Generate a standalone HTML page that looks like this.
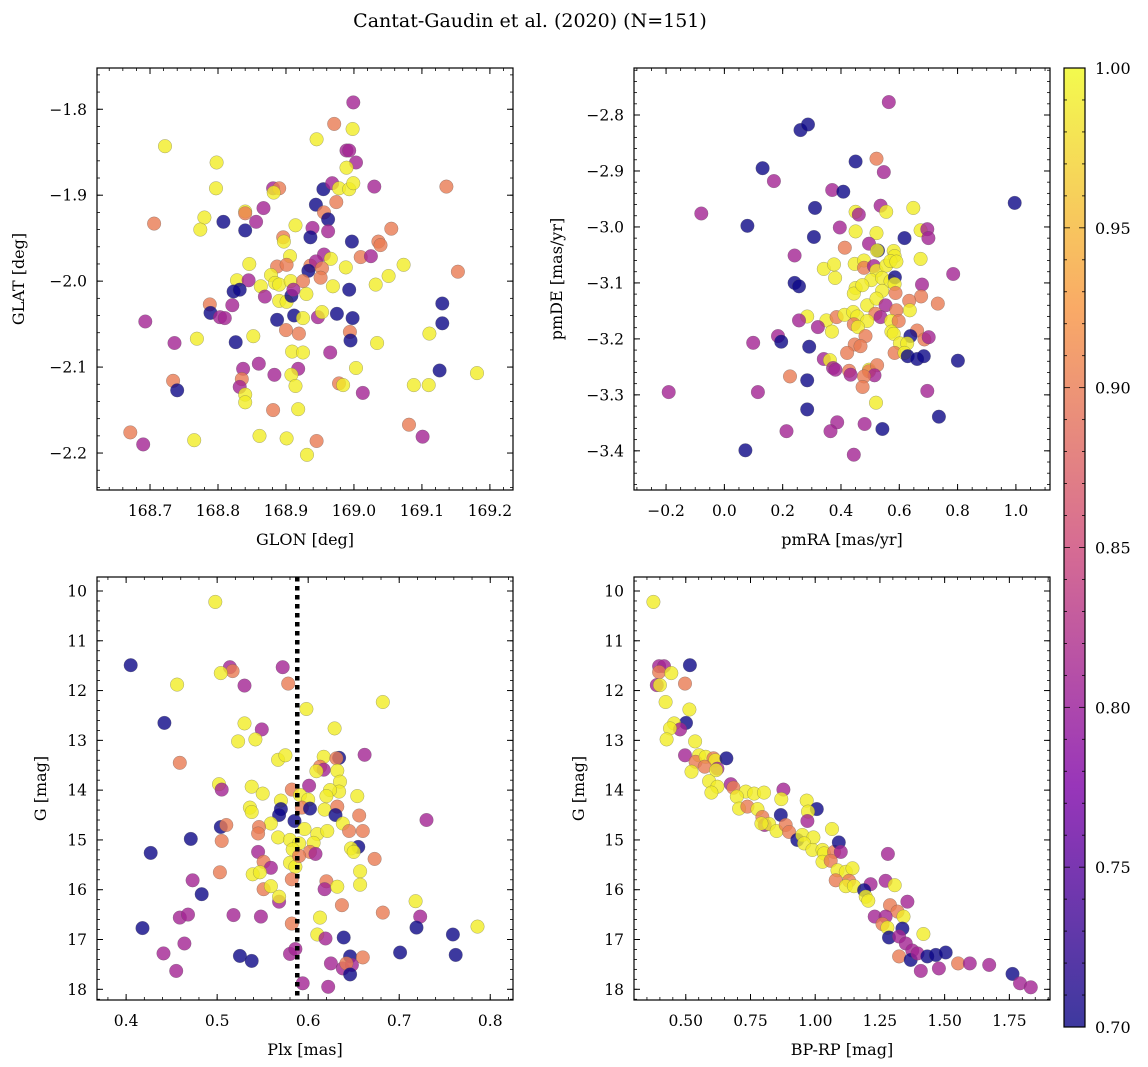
<!DOCTYPE html>
<html><head><meta charset="utf-8"><style>
body{margin:0;background:#fff}
svg{display:block;font-family:"DejaVu Serif","Liberation Serif",serif}
</style></head><body>
<svg id="fig" width="1148" height="1067" viewBox="0 0 1148 1067" xmlns="http://www.w3.org/2000/svg">
<defs><linearGradient id="cmap" x1="0" y1="1" x2="0" y2="0">
<stop offset="0" stop-color="#0d0887"/><stop offset="0.25" stop-color="#7e03a8"/><stop offset="0.5" stop-color="#cc4778"/><stop offset="0.75" stop-color="#f89540"/><stop offset="1" stop-color="#f0f921"/></linearGradient></defs>
<text x="530" y="27" font-size="19" text-anchor="middle">Cantat-Gaudin et al. (2020) (N=151)</text>
</svg>
<script>
// Panel 1: GLON vs GLAT
const glon=[168.999,168.971,168.998,168.945,168.722,168.989,168.993,169.003,168.989,168.798,168.797,168.881,168.890,168.882,168.955,168.968,168.978,168.993,168.999,169.030,169.136,168.944,168.974,168.840,168.840,168.867,168.780,168.808,168.706,168.774,168.840,168.856,168.914,168.956,168.962,168.939,168.962,168.936,168.896,168.897,168.997,169.036,169.039,169.055,168.906,168.956,168.966,169.010,169.025,168.846,168.887,168.901,168.936,168.944,168.933,168.953,168.951,168.988,169.073,169.153,168.828,168.845,168.878,168.884,168.890,168.907,168.925,168.823,168.832,168.863,168.869,168.890,168.901,168.908,168.911,168.930,168.969,168.993,169.032,169.051,168.788,168.789,168.821,168.803,168.810,168.887,168.912,168.925,168.947,168.953,168.975,168.998,168.693,168.736,168.769,168.826,168.852,168.900,168.919,168.994,168.995,169.034,169.111,169.130,169.130,168.909,168.925,168.965,168.860,168.837,168.918,168.908,168.883,168.835,168.832,168.914,168.978,168.984,169.003,169.013,169.126,169.181,169.088,169.110,168.734,168.740,168.840,168.840,168.881,168.918,168.671,168.690,168.765,168.861,168.901,168.945,168.931,169.081,169.101];
const glat=[-1.792,-1.817,-1.823,-1.835,-1.843,-1.848,-1.848,-1.862,-1.868,-1.862,-1.892,-1.892,-1.892,-1.897,-1.893,-1.886,-1.892,-1.893,-1.886,-1.890,-1.890,-1.911,-1.908,-1.919,-1.921,-1.915,-1.926,-1.931,-1.933,-1.940,-1.941,-1.931,-1.935,-1.920,-1.928,-1.938,-1.942,-1.949,-1.949,-1.954,-1.954,-1.954,-1.958,-1.939,-1.971,-1.969,-1.974,-1.972,-1.971,-1.980,-1.983,-1.981,-1.982,-1.977,-1.988,-1.985,-1.996,-1.984,-1.981,-1.989,-1.999,-1.999,-1.993,-2.002,-2.004,-2.000,-2.000,-2.012,-2.010,-2.006,-2.018,-2.023,-2.024,-2.017,-2.010,-2.015,-2.006,-2.010,-2.004,-1.994,-2.027,-2.037,-2.028,-2.042,-2.043,-2.045,-2.040,-2.043,-2.042,-2.036,-2.038,-2.043,-2.047,-2.072,-2.067,-2.071,-2.064,-2.057,-2.061,-2.059,-2.069,-2.072,-2.061,-2.026,-2.049,-2.082,-2.083,-2.083,-2.096,-2.102,-2.102,-2.109,-2.109,-2.114,-2.123,-2.122,-2.119,-2.121,-2.101,-2.130,-2.104,-2.107,-2.121,-2.121,-2.116,-2.127,-2.132,-2.141,-2.150,-2.149,-2.176,-2.190,-2.185,-2.180,-2.183,-2.186,-2.202,-2.167,-2.181];
const prob1=[0.81,0.90,0.99,0.99,0.99,0.81,0.81,0.81,0.99,0.99,0.99,0.81,0.90,0.99,0.70,0.81,0.99,0.99,0.99,0.81,0.90,0.70,0.90,0.99,0.90,0.81,0.99,0.70,0.90,0.99,0.70,0.81,0.99,0.90,0.70,0.81,0.81,0.70,0.90,0.99,0.70,0.90,0.90,0.90,0.99,0.81,0.99,0.90,0.81,0.99,0.90,0.90,0.90,0.81,0.70,0.90,0.90,0.99,0.99,0.90,0.99,0.81,0.99,0.99,0.99,0.99,0.90,0.70,0.70,0.99,0.81,0.99,0.99,0.70,0.81,0.99,0.99,0.70,0.99,0.99,0.90,0.70,0.81,0.81,0.81,0.70,0.70,0.99,0.81,0.99,0.70,0.70,0.81,0.81,0.99,0.70,0.99,0.90,0.90,0.90,0.70,0.99,0.99,0.70,0.70,0.99,0.99,0.81,0.81,0.81,0.81,0.99,0.81,0.90,0.81,0.99,0.90,0.99,0.99,0.81,0.70,0.99,0.99,0.99,0.90,0.70,0.99,0.99,0.90,0.99,0.90,0.81,0.99,0.99,0.99,0.90,0.99,0.90,0.81];
// Panel 2: pmRA vs pmDE
const pmra=[0.564,0.261,0.287,0.450,0.522,0.547,0.131,0.170,0.370,0.408,0.311,-0.079,0.079,0.536,0.450,0.461,0.555,0.648,0.996,0.396,0.307,0.450,0.522,0.618,0.673,0.696,0.700,0.413,0.496,0.527,0.524,0.581,0.584,0.241,0.341,0.376,0.380,0.447,0.479,0.479,0.513,0.522,0.555,0.570,0.590,0.673,0.785,0.241,0.256,0.504,0.541,0.570,0.585,0.584,0.450,0.444,0.473,0.541,0.587,0.678,0.675,0.732,0.634,0.636,0.490,0.522,0.553,0.518,0.590,0.284,0.256,0.350,0.385,0.412,0.442,0.456,0.490,0.536,0.572,0.598,0.444,0.458,0.321,0.369,0.484,0.573,0.581,0.661,0.638,0.686,0.701,0.602,0.627,0.184,0.195,0.099,0.291,0.447,0.467,0.421,0.584,0.618,0.629,0.661,0.684,0.801,0.341,0.362,0.373,0.381,0.428,0.433,0.496,0.496,0.524,0.515,0.479,0.474,0.225,0.284,-0.191,0.115,0.696,0.520,0.284,0.736,0.387,0.364,0.213,0.481,0.542,0.072,0.444];
const pmde=[-2.777,-2.827,-2.817,-2.883,-2.878,-2.902,-2.895,-2.918,-2.934,-2.937,-2.966,-2.976,-2.998,-2.962,-2.973,-2.978,-2.973,-2.966,-2.957,-3.001,-3.018,-3.008,-3.011,-3.020,-3.006,-3.004,-3.020,-3.037,-3.030,-3.042,-3.042,-3.043,-3.052,-3.051,-3.075,-3.067,-3.091,-3.066,-3.060,-3.073,-3.070,-3.078,-3.069,-3.061,-3.062,-3.057,-3.084,-3.100,-3.106,-3.095,-3.091,-3.097,-3.090,-3.102,-3.109,-3.119,-3.104,-3.114,-3.118,-3.103,-3.124,-3.137,-3.132,-3.149,-3.140,-3.128,-3.140,-3.155,-3.149,-3.160,-3.167,-3.167,-3.161,-3.157,-3.152,-3.160,-3.168,-3.161,-3.168,-3.168,-3.174,-3.179,-3.179,-3.187,-3.195,-3.187,-3.191,-3.185,-3.195,-3.201,-3.197,-3.208,-3.208,-3.195,-3.205,-3.207,-3.214,-3.210,-3.213,-3.225,-3.225,-3.225,-3.231,-3.236,-3.231,-3.239,-3.236,-3.238,-3.252,-3.255,-3.257,-3.264,-3.255,-3.258,-3.247,-3.265,-3.267,-3.286,-3.267,-3.274,-3.295,-3.295,-3.293,-3.314,-3.326,-3.339,-3.349,-3.365,-3.365,-3.352,-3.361,-3.399,-3.407];
const prob2=[0.81,0.70,0.70,0.70,0.90,0.81,0.70,0.81,0.81,0.70,0.70,0.81,0.70,0.81,0.99,0.81,0.99,0.99,0.70,0.81,0.70,0.99,0.99,0.70,0.99,0.81,0.81,0.90,0.81,0.70,0.99,0.99,0.99,0.81,0.99,0.99,0.99,0.99,0.99,0.90,0.81,0.99,0.99,0.99,0.99,0.99,0.81,0.70,0.70,0.99,0.99,0.99,0.70,0.99,0.99,0.99,0.99,0.99,0.90,0.81,0.90,0.90,0.90,0.99,0.99,0.99,0.81,0.90,0.90,0.99,0.81,0.99,0.90,0.99,0.99,0.99,0.99,0.81,0.99,0.90,0.90,0.99,0.81,0.99,0.90,0.99,0.99,0.90,0.70,0.90,0.81,0.99,0.99,0.81,0.70,0.81,0.70,0.90,0.90,0.90,0.90,0.99,0.70,0.70,0.70,0.70,0.81,0.99,0.81,0.81,0.90,0.81,0.99,0.90,0.90,0.81,0.90,0.90,0.90,0.70,0.81,0.81,0.81,0.99,0.70,0.70,0.81,0.81,0.81,0.81,0.70,0.70,0.81];
// Panel 3: Plx vs G
const plx=[0.498,0.405,0.514,0.517,0.504,0.572,0.456,0.530,0.578,0.682,0.598,0.442,0.530,0.549,0.629,0.523,0.542,0.459,0.567,0.575,0.617,0.634,0.631,0.662,0.613,0.617,0.609,0.632,0.635,0.502,0.505,0.538,0.550,0.582,0.601,0.634,0.624,0.570,0.591,0.600,0.620,0.654,0.536,0.538,0.570,0.568,0.593,0.602,0.618,0.632,0.630,0.656,0.730,0.585,0.559,0.504,0.510,0.546,0.545,0.596,0.610,0.621,0.638,0.645,0.660,0.471,0.505,0.567,0.580,0.590,0.606,0.427,0.545,0.583,0.602,0.608,0.655,0.647,0.650,0.673,0.551,0.559,0.580,0.586,0.590,0.503,0.539,0.547,0.657,0.473,0.582,0.620,0.618,0.632,0.657,0.483,0.551,0.559,0.568,0.568,0.637,0.682,0.718,0.459,0.468,0.518,0.548,0.613,0.723,0.418,0.582,0.719,0.786,0.759,0.610,0.619,0.639,0.464,0.441,0.525,0.538,0.580,0.586,0.646,0.660,0.701,0.762,0.625,0.638,0.648,0.642,0.646,0.455,0.594,0.622];
const gmag3=[10.22,11.49,11.53,11.61,11.65,11.53,11.88,11.90,11.86,12.23,12.37,12.65,12.66,12.78,12.76,13.02,12.98,13.45,13.39,13.30,13.33,13.35,13.36,13.29,13.53,13.59,13.62,13.61,13.83,13.88,13.99,13.93,14.07,13.99,13.91,14.03,14.00,14.21,14.10,14.19,14.12,14.12,14.35,14.44,14.38,14.50,14.35,14.37,14.39,14.33,14.50,14.51,14.60,14.62,14.67,14.74,14.70,14.74,14.87,14.78,14.88,14.82,14.67,14.82,14.82,14.98,15.02,14.95,15.00,15.07,15.06,15.26,15.24,15.19,15.24,15.28,15.14,15.17,15.24,15.38,15.44,15.56,15.46,15.54,15.32,15.65,15.69,15.65,15.63,15.81,15.79,15.83,15.99,15.94,15.90,16.09,15.99,15.93,16.24,16.14,16.31,16.46,16.23,16.56,16.50,16.51,16.54,16.56,16.54,16.77,16.68,16.76,16.74,16.90,16.90,16.98,16.96,17.08,17.28,17.33,17.43,17.29,17.19,17.34,17.36,17.26,17.31,17.48,17.58,17.51,17.48,17.70,17.63,17.88,17.95];
const prob3=[0.99,0.70,0.81,0.90,0.99,0.81,0.99,0.81,0.90,0.99,0.99,0.70,0.99,0.81,0.99,0.99,0.99,0.90,0.99,0.99,0.99,0.70,0.90,0.81,0.90,0.81,0.99,0.99,0.99,0.99,0.81,0.99,0.99,0.90,0.81,0.99,0.99,0.99,0.99,0.99,0.99,0.99,0.99,0.99,0.70,0.70,0.90,0.70,0.99,0.90,0.70,0.90,0.81,0.70,0.99,0.70,0.90,0.90,0.90,0.99,0.99,0.99,0.99,0.90,0.90,0.70,0.90,0.99,0.99,0.99,0.99,0.70,0.81,0.99,0.90,0.81,0.70,0.99,0.99,0.90,0.90,0.81,0.99,0.99,0.90,0.90,0.99,0.99,0.99,0.81,0.90,0.90,0.81,0.99,0.99,0.70,0.90,0.99,0.81,0.99,0.90,0.90,0.99,0.81,0.81,0.81,0.81,0.99,0.81,0.70,0.90,0.70,0.99,0.70,0.99,0.81,0.70,0.81,0.81,0.70,0.70,0.81,0.81,0.70,0.90,0.70,0.70,0.81,0.81,0.81,0.90,0.70,0.81,0.81,0.81];
const plxLine=[0.588];
// Panel 4: BP-RP vs G
const bprp=[0.375,0.397,0.416,0.397,0.444,0.516,0.497,0.388,0.400,0.422,0.514,0.501,0.455,0.478,0.439,0.426,0.536,0.497,0.551,0.538,0.577,0.607,0.614,0.657,0.573,0.622,0.617,0.522,0.590,0.622,0.599,0.674,0.684,0.732,0.764,0.802,0.877,0.869,0.697,0.706,0.738,0.777,0.967,1.006,0.972,0.970,0.796,0.867,0.805,0.822,0.792,0.851,0.886,0.899,0.931,0.950,0.993,1.065,0.957,0.989,1.028,1.034,1.073,1.091,1.099,1.028,1.060,1.281,1.086,1.118,1.144,1.079,1.131,1.118,1.150,1.214,1.272,1.307,1.189,1.195,1.205,1.356,1.289,1.318,1.230,1.272,1.341,1.260,1.279,1.337,1.285,1.324,1.418,1.350,1.375,1.324,1.369,1.395,1.433,1.466,1.504,1.408,1.478,1.552,1.597,1.672,1.762,1.791,1.833];
const gmag4=[10.22,11.51,11.51,11.63,11.65,11.49,11.86,11.89,11.89,12.23,12.38,12.65,12.66,12.78,12.76,12.98,13.02,13.30,13.30,13.43,13.33,13.36,13.40,13.36,13.53,13.57,13.60,13.63,13.82,13.93,14.05,13.88,13.95,14.03,14.07,14.05,13.99,14.18,14.13,14.37,14.33,14.38,14.21,14.38,14.43,14.62,14.54,14.50,14.70,14.68,14.67,14.82,14.70,14.84,15.00,14.90,14.95,14.78,15.07,15.20,15.20,15.27,15.24,15.05,15.24,15.44,15.42,15.28,15.61,15.64,15.57,15.81,15.82,15.93,15.93,15.89,15.82,15.91,16.01,16.14,16.22,16.24,16.31,16.44,16.54,16.54,16.54,16.69,16.76,16.78,16.96,16.94,16.89,17.08,17.22,17.34,17.41,17.28,17.34,17.31,17.26,17.63,17.58,17.48,17.48,17.51,17.69,17.88,17.96];
const prob4=[0.99,0.81,0.81,0.90,0.99,0.70,0.90,0.81,0.99,0.99,0.99,0.70,0.99,0.81,0.99,0.99,0.99,0.81,0.99,0.90,0.99,0.90,0.99,0.70,0.90,0.81,0.99,0.99,0.99,0.99,0.99,0.81,0.90,0.99,0.99,0.99,0.81,0.99,0.99,0.99,0.90,0.99,0.99,0.70,0.99,0.81,0.90,0.70,0.81,0.99,0.99,0.99,0.90,0.90,0.70,0.99,0.99,0.99,0.99,0.99,0.99,0.99,0.90,0.70,0.81,0.99,0.90,0.81,0.99,0.99,0.99,0.90,0.90,0.99,0.99,0.81,0.81,0.99,0.70,0.99,0.99,0.81,0.90,0.90,0.81,0.81,0.99,0.90,0.99,0.70,0.70,0.81,0.99,0.81,0.81,0.90,0.70,0.81,0.70,0.70,0.70,0.81,0.81,0.90,0.81,0.81,0.70,0.81,0.81];
// Colorbar ticks
const cbarTicks=[0.70,0.75,0.80,0.85,0.90,0.95,1.00];

const NS="http://www.w3.org/2000/svg";
const svg=document.getElementById('fig');
function mk(tag,attrs,parent){const e=document.createElementNS(NS,tag);for(const k in attrs)e.setAttribute(k,attrs[k]);(parent||svg).appendChild(e);return e;}
const stops=[[0,[13,8,135]],[0.25,[126,3,168]],[0.5,[204,71,120]],[0.75,[248,149,64]],[1,[240,249,33]]];
function plasma(v){let t=(v-0.7)/0.3;t=Math.max(0,Math.min(1,t));for(let i=0;i<stops.length-1;i++){const a=stops[i],b=stops[i+1];if(t<=b[0]){const f=(t-a[0])/(b[0]-a[0]);return 'rgb('+a[1].map((c,j)=>Math.round(c+(b[1][j]-c)*f)).join(',')+')';}}return 'rgb(240,249,33)';}
function fmt(v,d){const s=Math.abs(v).toFixed(d);return (v<-1e-9?'\u2212':'')+s;}

function panel(o){
  const g=mk('g',{});
  
  
  const L=o.box[0],T=o.box[1],R=o.box[2],B=o.box[3];
  const sx=v=>L+(v-o.xr[0])/(o.xr[1]-o.xr[0])*(R-L);
  const sy=v=>T+(o.yr[1]-v)/(o.yr[1]-o.yr[0])*(B-T);
  const n=Math.min(o.xs.length,o.ys.length,o.ps.length);
  for(let i=0;i<n;i++){
    const c=mk('circle',{cx:sx(o.xs[i]).toFixed(1),cy:sy(o.ys[i]).toFixed(1),r:6.8,fill:plasma(o.ps[i]),'fill-opacity':0.8,stroke:'#555','stroke-opacity':0.5,'stroke-width':0.5},g);
    
    
  }
  if(o.vline){const ln=mk('line',{x1:sx(o.vline[0]),x2:sx(o.vline[0]),y1:T,y2:B,stroke:'#000','stroke-width':4.5,'stroke-dasharray':'4.5,4.5'},g);
    
    }
  mk('rect',{x:L,y:T,width:R-L,height:B-T,fill:'none',stroke:'#000','stroke-width':1.2},g);
  function ticks(step,minor,lo,hi,fn){const s=Math.ceil(lo/step-1e-9);for(let k=s;k*step<=hi+1e-9;k++)fn(k*step,minor);}
  ticks(o.xt/o.xm,true,o.xr[0],o.xr[1],v=>{const x=sx(v);mk('line',{x1:x,x2:x,y1:B,y2:B-3,stroke:'#000','stroke-width':0.8},g);mk('line',{x1:x,x2:x,y1:T,y2:T+3,stroke:'#000','stroke-width':0.8},g);});
  ticks(o.yt/o.ym,true,o.yr[0],o.yr[1],v=>{const y=sy(v);mk('line',{x1:L,x2:L+3,y1:y,y2:y,stroke:'#000','stroke-width':0.8},g);mk('line',{x1:R,x2:R-3,y1:y,y2:y,stroke:'#000','stroke-width':0.8},g);});
  ticks(o.xt,false,o.xr[0],o.xr[1],v=>{const x=sx(v);mk('line',{x1:x,x2:x,y1:B,y2:B-6,stroke:'#000','stroke-width':1},g);mk('line',{x1:x,x2:x,y1:T,y2:T+6,stroke:'#000','stroke-width':1},g);
    const t=mk('text',{x:x,y:B+26,'font-size':15.5,'text-anchor':'middle'},g);t.textContent=fmt(v,o.xd);
    
    });
  ticks(o.yt,false,o.yr[0],o.yr[1],v=>{const y=sy(v);mk('line',{x1:L,x2:L+6,y1:y,y2:y,stroke:'#000','stroke-width':1},g);mk('line',{x1:R,x2:R-6,y1:y,y2:y,stroke:'#000','stroke-width':1},g);
    const t=mk('text',{x:L-10,y:y+5.5,'font-size':15.5,'text-anchor':'end'},g);t.textContent=o.inv?fmt(-v,o.yd):fmt(v,o.yd);
    
    });
  const xl=mk('text',{x:(L+R)/2,y:B+55,'font-size':16,'text-anchor':'middle'},g);xl.textContent=o.xlab;
  
  
  const yx=o.ylx,yy=(T+B)/2;
  const yl=mk('text',{x:yx,y:yy,'font-size':16,'text-anchor':'middle',transform:'rotate(-90 '+yx+' '+yy+')'},g);yl.textContent=o.ylab;
  
  
}
panel({name:'glon-glat-panel',box:[97,68,513,490],xr:[168.622,169.234],yr:[-2.243,-1.752],xs:glon,ys:glat,ps:prob1,xt:0.1,xm:5,yt:0.1,ym:5,xd:1,yd:1,xlab:'GLON [deg]',ylab:'GLAT [deg]',ylx:24});
panel({name:'proper-motion-panel',box:[634,68,1050,490],xr:[-0.310,1.117],yr:[-3.470,-2.716],xs:pmra,ys:pmde,ps:prob2,xt:0.2,xm:4,yt:0.1,ym:5,xd:1,yd:1,xlab:'pmRA [mas/yr]',ylab:'pmDE [mas/yr]',ylx:562});
panel({name:'parallax-panel',box:[97,577,513,1000],xr:[0.368,0.825],yr:[-18.215,-9.719],xs:plx,ys:gmag3.map(v=>-v),ps:prob3,xt:0.1,xm:5,yt:1,ym:5,xd:1,yd:0,inv:true,xlab:'Plx [mas]',ylab:'G [mag]',ylx:46,vline:plxLine});
panel({name:'cmd-panel',box:[634,577,1050,1000],xr:[0.300,1.907],yr:[-18.215,-9.719],xs:bprp,ys:gmag4.map(v=>-v),ps:prob4,xt:0.25,xm:5,yt:1,ym:5,xd:2,yd:0,inv:true,xlab:'BP-RP [mag]',ylab:'G [mag]',ylx:584});
// colorbar
const cb=mk('g',{});


const cT=68,cB=1027,cL=1064,cR=1085;
mk('rect',{x:cL,y:cT,width:cR-cL,height:cB-cT,fill:'url(#cmap)','fill-opacity':0.8},cb);
mk('rect',{x:cL,y:cT,width:cR-cL,height:cB-cT,fill:'none',stroke:'#000','stroke-width':1.2},cb);
const cy=v=>cB-(v-0.7)/0.3*(cB-cT);
for(let k=70;k<=100;k++){const y=cy(k/100);mk('line',{x1:cR,x2:cR-(k%5?3:6),y1:y,y2:y,stroke:'#000','stroke-width':0.8},cb);mk('line',{x1:cL,x2:cL+(k%5?3:6),y1:y,y2:y,stroke:'#000','stroke-width':0.8},cb);}
cbarTicks.forEach(v=>{const t=mk('text',{x:cR+10,y:cy(v)+6,'font-size':16},cb);t.textContent=v.toFixed(2);
  
  });
</script>
</body></html>
